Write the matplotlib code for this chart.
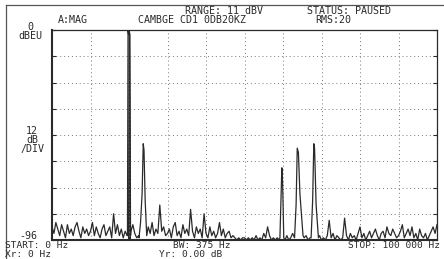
import matplotlib.pyplot as plt
from matplotlib.lines import Line2D

# noise floor, dB, every 0.5 kHz from 0 to 100 kHz
noise_db = [
    -90, -93, -88, -91, -94, -89, -92, -95, -89, -93, -91, -94, -90, -88, -92, -95, -90, -93, -91, -94,
    -92, -88, -94, -90, -93, -95, -91, -89, -94, -92, -90, -95, -84, -93, -89, -94, -91, -95, -92, -94,
    -94, -92, -89, -93, -95, -94, -93, -94, -95, -94, -90, -93, -88, -94, -91, -93, -80, -92, -90, -94,
    -93, -91, -95, -90, -88, -94, -92, -95, -89, -93, -91, -94, -82, -92, -95, -90, -93, -91, -95, -84,
    -93, -95, -90, -94, -92, -95, -93, -88, -94, -91, -95, -93, -92, -95, -94, -95, -96, -95, -96, -95,
    -95, -96, -95, -96, -95, -96, -94, -96, -95, -96, -93, -95, -90, -94, -96, -95, -96, -95, -96, -95,
    -95, -96, -94, -96, -95, -93, -96, -95, -96, -95, -96, -95, -94, -96, -95, -96, -95, -96, -95, -94,
    -96, -95, -96, -94, -87, -95, -93, -96, -94, -95, -96, -95, -86, -94, -96, -93, -95, -94, -96, -93,
    -90, -95, -93, -96, -94, -92, -95, -93, -91, -94, -96, -93, -92, -95, -90, -93, -94, -91, -93, -95,
    -94, -92, -89, -95, -93, -91, -94, -90, -95, -93, -96, -91, -94, -95, -93, -96, -94, -92, -90, -93, -89,
]
noise_khz = [i * 0.5 for i in range(len(noise_db))]

# tones (kHz, dB)
peak_khz = [19.6, 19.75, 19.9, 20.05, 20.2, 20.4,
            22.6, 23.0, 23.4, 23.7, 23.9, 24.2, 24.6,
            59.2, 59.5, 59.7, 59.9, 60.2,
            63.0, 63.4, 63.7, 64.0, 64.4, 65.2,
            67.3, 67.7, 68.0, 68.2, 68.6, 69.2]
peak_db = [-94, 0, -2, 0, -2, -94,
           -95, -88, -75, -52, -55, -78, -94,
           -95, -75, -63, -70, -95,
           -95, -80, -54, -56, -75, -94,
           -95, -78, -52, -54, -80, -95]
peak_spans = [(19.6, 20.4), (22.6, 24.6), (59.2, 60.2), (63.0, 65.2), (67.3, 69.2)]

pts = [(f, d) for f, d in zip(noise_khz, noise_db)
       if not any(a <= f <= b for a, b in peak_spans)]
pts += list(zip(peak_khz, peak_db))
pts.sort()
freq = [p[0] * 1000 for p in pts]
level = [p[1] for p in pts]

ink = "#2a2a2a"
mono = "DejaVu Sans Mono"

fig = plt.figure(figsize=(4.44, 2.59), dpi=100)
ax = fig.add_axes([52 / 444, 19 / 259, 385 / 444, 210 / 259])
ax.plot(freq, level, color=ink, lw=0.9)
# the carrier is drawn solid on the screen
main_f = [f * 1000 for f in peak_khz[:6]]
ax.fill_between(main_f, peak_db[:6], -96, color=ink, lw=0)
ax.set_xlim(0, 100000)
ax.set_ylim(-96, 0)
ax.set_xticks(range(0, 100001, 10000))
ax.set_yticks(range(-96, 1, 12))
ax.grid(True, color="#777777", ls=(0, (1, 3)), lw=0.7)
ax.tick_params(axis="x", length=0, labelbottom=False)
ax.tick_params(axis="y", direction="in", length=3, left=True, right=True,
               labelleft=False, color=ink)
for s in ["left", "bottom"]:
    ax.spines[s].set_linewidth(1.5)
for s in ["top", "right"]:
    ax.spines[s].set_linewidth(0.9)
for s in ax.spines.values():
    s.set_color(ink)

# outer frame
fig.add_artist(Line2D([6 / 444, 1.0], [1 - 5 / 259, 1 - 5 / 259], color="#555555", lw=0.9))
fig.add_artist(Line2D([6 / 444, 6 / 444], [0, 1 - 5 / 259], color="#555555", lw=0.9))

def txt(x, y, s, ha="left", size=7.2):
    fig.text(x / 444, 1 - y / 259, s, ha=ha, va="center", family=mono,
             fontsize=size, color=ink)

txt(185, 11, "RANGE: 11 dBV")
txt(307, 11, "STATUS: PAUSED")
txt(58, 20, "A:MAG")
txt(138, 20, "CAMBGE CD1 0DB20KZ")
txt(315, 20, "RMS:20")
txt(30, 27, "0", "center")
txt(30, 36, "dBEU", "center")
txt(32, 131, "12", "center")
txt(32, 140, "dB", "center")
txt(32, 149, "/DIV", "center")
txt(28, 236, "-96", "center")
txt(5, 245.5, "START: 0 Hz", size=6.8)
txt(5, 254.5, "Xr: 0 Hz", size=6.8)
txt(173, 245.5, "BW: 375 Hz", size=6.8)
txt(159, 254.5, "Yr: 0.00 dB", size=6.8)
txt(440, 245.5, "STOP: 100 000 Hz", "right", size=6.8)

fig.savefig("out.png", dpi=100)
